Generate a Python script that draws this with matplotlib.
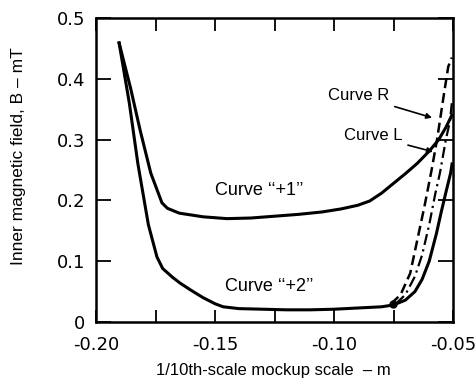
import matplotlib
matplotlib.use("Agg")
import matplotlib.pyplot as plt
from matplotlib.transforms import ScaledTranslation

plt.rcParams["font.family"] = ["Liberation Sans", "DejaVu Sans"]

# Curve "+1" (solid, upper)
x_p1 = [-0.1903, -0.1855, -0.1815, -0.1770, -0.1723, -0.1700, -0.1650, -0.1550, -0.1450,
        -0.1350, -0.1250, -0.1150, -0.1050, -0.0970, -0.0900, -0.0850, -0.0800, -0.0750,
        -0.0700, -0.0650, -0.0600, -0.0560, -0.0530, -0.0505]
y_p1 = [0.459, 0.385, 0.316, 0.245, 0.196, 0.187, 0.179, 0.173, 0.170,
        0.171, 0.174, 0.177, 0.181, 0.186, 0.192, 0.199, 0.212, 0.228,
        0.244, 0.261, 0.281, 0.300, 0.320, 0.340]

# Curve "+2" (solid, lower)
x_p2 = [-0.1903, -0.1860, -0.1824, -0.1780, -0.1744, -0.1720, -0.1680, -0.1647, -0.1600,
        -0.1550, -0.1500, -0.1466, -0.1400, -0.1300, -0.1200, -0.1100, -0.1000, -0.0900,
        -0.0800, -0.0750, -0.0700, -0.0660, -0.0630, -0.0600, -0.0570, -0.0550, -0.0530,
        -0.0510, -0.0504]
y_p2 = [0.459, 0.360, 0.260, 0.160, 0.107, 0.088, 0.074, 0.064, 0.052,
        0.040, 0.030, 0.025, 0.022, 0.021, 0.020, 0.020, 0.021, 0.023,
        0.025, 0.028, 0.036, 0.050, 0.070, 0.100, 0.145, 0.180, 0.213,
        0.245, 0.260]

# Curve R (dashed)
x_r = [-0.0760, -0.0720, -0.0680, -0.0650, -0.0620, -0.0590, -0.0567, -0.0540, -0.0520, -0.0505]
y_r = [0.030, 0.045, 0.080, 0.135, 0.190, 0.250, 0.300, 0.370, 0.420, 0.435]

# Curve L (dash-dot)
x_l = [-0.0740, -0.0700, -0.0660, -0.0630, -0.0600, -0.0575, -0.0555, -0.0530, -0.0513, -0.0505]
y_l = [0.030, 0.045, 0.075, 0.110, 0.160, 0.210, 0.245, 0.300, 0.330, 0.360]

x_ticks = [-0.20, -0.15, -0.10, -0.05]
x_ticklabels = ["-0.20", "-0.15", "-0.10", "-0.05"]
y_ticks = [0, 0.1, 0.2, 0.3, 0.4, 0.5]
y_ticklabels = ["0", "0.1", "0.2", "0.3", "0.4", "0.5"]

fig = plt.figure(figsize=(4.77, 3.90), dpi=100)
ax = fig.add_axes([0.2013, 0.1744, 0.7484, 0.7794])

lw = 2.2
ax.plot(x_p1, y_p1, color="black", lw=lw)
ax.plot(x_p2, y_p2, color="black", lw=lw)
ax.plot(x_r, y_r, color="black", lw=1.8, ls=(0, (4, 2)))
ax.plot(x_l, y_l, color="black", lw=1.6, ls=(0, (5, 2, 1, 2)))
ax.plot([-0.0752], [0.030], "o", color="black", ms=5)

ax.set_xlim(-0.20, -0.05)
ax.set_ylim(0, 0.5)
ax.set_xticks(x_ticks)
ax.set_xticklabels(x_ticklabels, family="DejaVu Sans", fontsize=13)
ax.set_xticks([-0.175, -0.125, -0.075], minor=True)
ax.set_yticks(y_ticks)
ax.set_yticklabels(y_ticklabels, family="DejaVu Sans", fontsize=13)

# last x label sits a little to the left in the original
last = ax.get_xticklabels()[-1]
last.set_transform(last.get_transform() + ScaledTranslation(-5 / 100, 0, fig.dpi_scale_trans))

ax.tick_params(which="both", direction="in", top=True, right=True, width=1.3)
ax.tick_params(axis="x", which="both", length=9, pad=10)
ax.tick_params(axis="y", which="both", length=11, pad=8)
for s in ax.spines.values():
    s.set_linewidth(1.8)

ax.set_xlabel("1/10th-scale mockup scale  \u2013 m", fontsize=12)
ax.set_ylabel("Inner magnetic field, B \u2013 mT", fontsize=12.5)
ax.xaxis.set_label_coords(0.496, -0.135)
ax.yaxis.set_label_coords(-0.195, 0.545)

ax.text(-0.1500, 0.217, "Curve \u2018\u2018+1\u2019\u2019", fontsize=13, va="center")
ax.text(-0.1458, 0.059, "Curve \u2018\u2018+2\u2019\u2019", fontsize=13, va="center")
ax.annotate("Curve R", xy=(-0.0588, 0.336), xytext=(-0.1025, 0.372),
            fontsize=12, va="center",
            arrowprops=dict(arrowstyle="-|>", color="black", lw=1.2,
                            mutation_scale=8, shrinkA=2, shrinkB=0))
ax.annotate("Curve L", xy=(-0.0584, 0.280), xytext=(-0.0958, 0.306),
            fontsize=12, va="center",
            arrowprops=dict(arrowstyle="-|>", color="black", lw=1.2,
                            mutation_scale=8, shrinkA=2, shrinkB=0))

fig.savefig("out.png", dpi=100)
